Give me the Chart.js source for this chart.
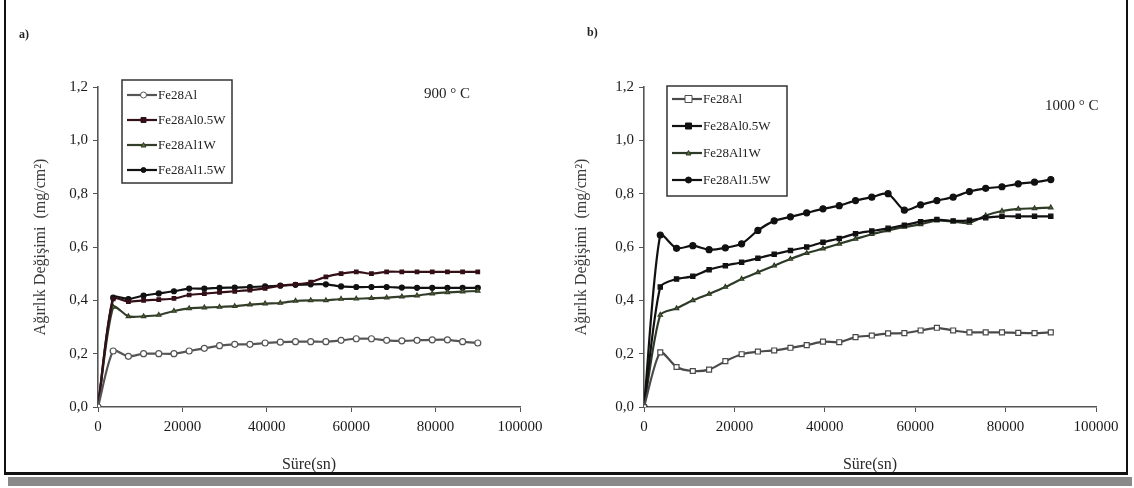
<!DOCTYPE html>
<html>
<head>
<meta charset="utf-8">
<script src="https://cdn.jsdelivr.net/npm/chart.js@4.4.0/dist/chart.umd.min.js"></script>
<style>
body { margin:0; background:#fff; width:1134px; height:488px; overflow:hidden; position:relative; font-family:'Liberation Serif', serif; }
#frame { position:absolute; left:4px; top:0; width:1120px; height:472px; border-left:2px solid #111; border-right:2px solid #111; border-bottom:3px solid #111; }
#shadow { position:absolute; left:8px; top:477px; width:1124px; height:9px; background:#8a8a8a; }
canvas { position:absolute; top:0; }
.lbl { position:absolute; font-size:13px; color:#222; white-space:nowrap; }
</style>
</head>
<body>
<div id="frame"></div>
<div id="shadow"></div>
<canvas id="chartA" width="560" height="488" style="left:0"></canvas>
<canvas id="chartB" width="567" height="488" style="left:560px"></canvas>
<div class="lbl" style="left:19px;top:27px;font-size:12px;font-weight:bold">a)</div>
<div class="lbl" style="left:587px;top:25px;font-size:12px;font-weight:bold">b)</div>
<div class="lbl" style="left:424px;top:85px;font-size:15px">900 ° C</div>
<div class="lbl" style="left:1045px;top:97px;font-size:15px">1000 ° C</div>
<script>
// zaman (sn) - her iki grafik için ortak
const times = [0, 3600, 7200, 10800, 14400, 18000, 21600, 25200, 28800, 32400, 36000, 39600, 43200,
               46800, 50400, 54000, 57600, 61200, 64800, 68400, 72000, 75600, 79200, 82800, 86400, 90000];

const seriesNames = ['Fe28Al', 'Fe28Al0.5W', 'Fe28Al1W', 'Fe28Al1.5W'];

// a) 900 °C
const fe28al_900   = [0, 0.21, 0.19, 0.20, 0.20, 0.20, 0.21, 0.22, 0.23, 0.235, 0.235, 0.24, 0.243, 0.245, 0.245, 0.245, 0.25, 0.256, 0.256, 0.25, 0.248, 0.25, 0.252, 0.252, 0.245, 0.24];
const fe28al05w_900 = [0, 0.405, 0.395, 0.40, 0.403, 0.407, 0.42, 0.425, 0.43, 0.434, 0.438, 0.445, 0.455, 0.46, 0.468, 0.488, 0.50, 0.507, 0.50, 0.507, 0.507, 0.507, 0.507, 0.507, 0.507, 0.507];
const fe28al1w_900 = [0, 0.375, 0.34, 0.34, 0.345, 0.36, 0.37, 0.373, 0.375, 0.378, 0.384, 0.388, 0.39, 0.398, 0.40, 0.40, 0.405, 0.406, 0.408, 0.41, 0.414, 0.418, 0.425, 0.43, 0.433, 0.435];
const fe28al15w_900 = [0, 0.41, 0.405, 0.418, 0.426, 0.434, 0.444, 0.444, 0.447, 0.448, 0.45, 0.452, 0.455, 0.458, 0.46, 0.46, 0.452, 0.45, 0.45, 0.45, 0.448, 0.447, 0.447, 0.447, 0.447, 0.447];

// b) 1000 °C
const fe28al_1000   = [0, 0.205, 0.15, 0.135, 0.14, 0.172, 0.198, 0.208, 0.212, 0.222, 0.232, 0.245, 0.243, 0.262, 0.268, 0.276, 0.277, 0.287, 0.297, 0.287, 0.28, 0.28, 0.28, 0.278, 0.277, 0.28];
const fe28al05w_1000 = [0, 0.45, 0.48, 0.49, 0.515, 0.53, 0.543, 0.558, 0.573, 0.587, 0.60, 0.618, 0.632, 0.65, 0.66, 0.67, 0.682, 0.695, 0.703, 0.698, 0.70, 0.71, 0.715, 0.715, 0.715, 0.715];
const fe28al1w_1000 = [0, 0.345, 0.37, 0.40, 0.424, 0.45, 0.48, 0.505, 0.53, 0.555, 0.577, 0.594, 0.612, 0.63, 0.648, 0.662, 0.675, 0.685, 0.70, 0.695, 0.69, 0.718, 0.735, 0.743, 0.745, 0.748];
const fe28al15w_1000 = [0, 0.645, 0.595, 0.605, 0.59, 0.597, 0.612, 0.662, 0.698, 0.713, 0.728, 0.743, 0.755, 0.774, 0.787, 0.80, 0.738, 0.758, 0.774, 0.787, 0.808, 0.82, 0.826, 0.837, 0.843, 0.853];

const yTicks = [0, 0.2, 0.4, 0.6, 0.8, 1.0, 1.2];
const xTicks = [0, 20000, 40000, 60000, 80000, 100000];

const toPoints = vals => times.map((t, i) => ({ x: t, y: vals[i] }));

// küçük işaret çizimi (lejant için)
function drawMark(ctx, style, x, y, r, fill, stroke) {
    ctx.beginPath();
    if (style === 'rect') {
        ctx.rect(x - r, y - r, 2 * r, 2 * r);
    } else if (style === 'triangle') {
        ctx.moveTo(x, y - r);
        ctx.lineTo(x + r, y + r * 0.8);
        ctx.lineTo(x - r, y + r * 0.8);
        ctx.closePath();
    } else {
        ctx.arc(x, y, r, 0, Math.PI * 2);
    }
    ctx.fillStyle = fill; ctx.fill();
    ctx.lineWidth = 1; ctx.strokeStyle = stroke; ctx.stroke();
}

// çerçeveli lejant (grafik alanı içinde)
const boxLegend = {
    id: 'boxLegend',
    afterDatasetsDraw(chart, args, opts) {
        const { ctx, chartArea } = chart;
        const x0 = chartArea.left + opts.x, y0 = chartArea.top + opts.y;
        ctx.save();
        ctx.fillStyle = '#fff';
        ctx.fillRect(x0, y0, opts.w, opts.h);
        ctx.strokeStyle = '#333';
        ctx.lineWidth = 1.5;
        ctx.strokeRect(x0, y0, opts.w, opts.h);
        chart.data.datasets.forEach((ds, i) => {
            const y = y0 + opts.first + i * opts.rowH;
            const lx = x0 + 5;
            ctx.beginPath();
            ctx.moveTo(lx, y);
            ctx.lineTo(lx + opts.lineW, y);
            ctx.strokeStyle = ds.borderColor;
            ctx.lineWidth = 2.2;
            ctx.stroke();
            drawMark(ctx, ds.pointStyle, lx + opts.lineW * 0.55, y, ds.pointRadius,
                     ds.pointBackgroundColor, ds.pointBorderColor);
            ctx.fillStyle = '#222';
            ctx.font = '13px "Liberation Serif", serif';
            ctx.textBaseline = 'middle';
            ctx.fillText(ds.label, lx + opts.lineW + 1, y + 1);
        });
        ctx.restore();
    }
};

function makeSet(label, vals, color, style, fill, radius) {
    return {
        label: label,
        data: toPoints(vals),
        borderColor: color,
        borderWidth: 2.2,
        pointStyle: style,
        pointRadius: radius,
        pointBackgroundColor: fill,
        pointBorderColor: color,
        pointBorderWidth: 1.2,
        tension: 0.25
    };
}

function makeOptions(pad, yWidth, legendOpts) {
    const tickFont = { family: '"Liberation Serif", serif', size: 15 };
    const titleFont = { family: '"Liberation Serif", serif', size: 16 };
    return {
        responsive: false,
        animation: false,
        layout: { padding: pad },
        plugins: {
            legend: { display: false },
            tooltip: { enabled: false },
            boxLegend: legendOpts
        },
        scales: {
            x: {
                type: 'linear',
                min: 0, max: 100000,
                afterBuildTicks: s => { s.ticks = xTicks.map(v => ({ value: v })); },
                afterFit: s => { s.height = 71; },
                border: { color: '#555', width: 1.6 },
                grid: { drawOnChartArea: false, drawTicks: true, tickLength: 5, color: '#555' },
                ticks: { color: '#1a1a1a', font: tickFont, padding: 6, maxRotation: 0, callback: v => String(v) },
                title: { display: true, text: 'Süre(sn)', color: '#2a2a2a', font: titleFont }
            },
            y: {
                min: 0, max: 1.2,
                afterBuildTicks: s => { s.ticks = yTicks.map(v => ({ value: v })); },
                afterFit: s => { s.width = yWidth; },
                border: { color: '#555', width: 1.6 },
                grid: { drawOnChartArea: false, drawTicks: true, tickLength: 5, color: '#555' },
                ticks: { color: '#1a1a1a', font: tickFont, padding: 5, callback: v => v.toFixed(1).replace('.', ',') },
                title: { display: true, text: 'Ağırlık Değişimi  (mg/cm²)', color: '#3a3a3a', font: titleFont }
            }
        }
    };
}

new Chart(document.getElementById('chartA'), {
    type: 'line',
    data: {
        datasets: [
            makeSet(seriesNames[0], fe28al_900, '#555555', 'circle', '#fff', 3),
            makeSet(seriesNames[1], fe28al05w_900, '#331018', 'rect', '#331018', 2.5),
            makeSet(seriesNames[2], fe28al1w_900, '#333d2a', 'triangle', '#55702a', 2.5),
            makeSet(seriesNames[3], fe28al15w_900, '#111111', 'circle', '#111111', 2.5)
        ]
    },
    options: makeOptions({ top: 87, right: 40, bottom: 10, left: 27 }, 71,
        { x: 24, y: -7, w: 110, h: 103, first: 15, rowH: 25, lineW: 30 }),
    plugins: [boxLegend]
});

new Chart(document.getElementById('chartB'), {
    type: 'line',
    data: {
        datasets: [
            makeSet(seriesNames[0], fe28al_1000, '#4a4a4a', 'rect', '#fff', 3.5),
            makeSet(seriesNames[1], fe28al05w_1000, '#111111', 'rect', '#111111', 3),
            makeSet(seriesNames[2], fe28al1w_1000, '#2e3a28', 'triangle', '#55702a', 2.5),
            makeSet(seriesNames[3], fe28al15w_1000, '#111111', 'circle', '#111111', 3)
        ]
    },
    options: makeOptions({ top: 87, right: 31, bottom: 10, left: 8 }, 76,
        { x: 23, y: -1, w: 120, h: 110, first: 13, rowH: 27, lineW: 30 }),
    plugins: [boxLegend]
});
</script>
</body>
</html>
